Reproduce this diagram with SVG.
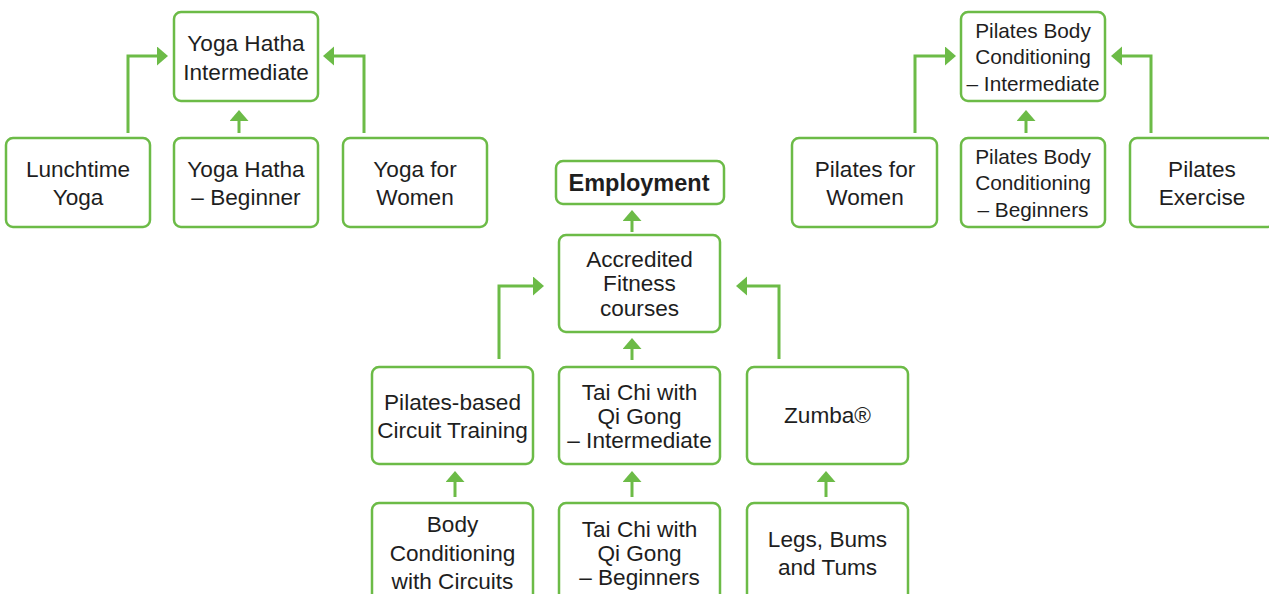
<svg xmlns="http://www.w3.org/2000/svg" width="1269" height="594" viewBox="0 0 1269 594">
<style>
.box{fill:#fff;stroke:#6cbb47;stroke-width:2.5}
.t{font-family:"Liberation Sans",Arial,sans-serif;font-size:22.6px;fill:#1e1e1e;text-anchor:middle}
.s{font-size:20.8px}
.b{font-weight:bold;font-size:23.5px}
.c{fill:none;stroke:#6cbb47;stroke-width:3;marker-end:url(#ah)}
</style>
<defs>
<marker id="ah" markerUnits="userSpaceOnUse" markerWidth="12" markerHeight="20" refX="0" refY="9.5" orient="auto">
<path d="M0,0 L11,9.5 L0,19 z" fill="#6cbb47"/>
</marker>
</defs>
<rect width="1269" height="594" fill="#fff"/>
<g id="connectors">
<path class="c" d="M128,133 V56 H157"/>
<path class="c" d="M239,133 V121"/>
<path class="c" d="M364,133 V56 H334"/>
<path class="c" d="M915,133 V56 H945"/>
<path class="c" d="M1026,133 V121"/>
<path class="c" d="M1151,133 V56 H1122"/>
<path class="c" d="M632,232 V221"/>
<path class="c" d="M499,359 V286 H533"/>
<path class="c" d="M779,359 V286 H747"/>
<path class="c" d="M632,360 V349"/>
<path class="c" d="M455,497 V482"/>
<path class="c" d="M632,497 V482"/>
<path class="c" d="M826,497 V482"/>
</g>
<g id="yoga-hatha-intermediate"><rect class="box" x="174" y="12" width="144" height="89" rx="7"/><text class="t"><tspan x="246" y="51">Yoga Hatha</tspan><tspan x="246" y="80">Intermediate</tspan></text></g>
<g id="lunchtime-yoga"><rect class="box" x="6" y="138" width="144" height="89" rx="7"/><text class="t"><tspan x="78" y="177">Lunchtime</tspan><tspan x="78" y="205">Yoga</tspan></text></g>
<g id="yoga-hatha-beginner"><rect class="box" x="174" y="138" width="144" height="89" rx="7"/><text class="t"><tspan x="246" y="177">Yoga Hatha</tspan><tspan x="246" y="205">– Beginner</tspan></text></g>
<g id="yoga-for-women"><rect class="box" x="343" y="138" width="144" height="89" rx="7"/><text class="t"><tspan x="415" y="177">Yoga for</tspan><tspan x="415" y="205">Women</tspan></text></g>
<g id="pilates-bc-intermediate"><rect class="box" x="961" y="12" width="144" height="89" rx="7"/><text class="t s"><tspan x="1033" y="38">Pilates Body</tspan><tspan x="1033" y="64">Conditioning</tspan><tspan x="1033" y="91">– Intermediate</tspan></text></g>
<g id="pilates-for-women"><rect class="box" x="792" y="138" width="145" height="89" rx="7"/><text class="t"><tspan x="865" y="177">Pilates for</tspan><tspan x="865" y="205">Women</tspan></text></g>
<g id="pilates-bc-beginners"><rect class="box" x="961" y="138" width="144" height="89" rx="7"/><text class="t s"><tspan x="1033" y="164">Pilates Body</tspan><tspan x="1033" y="190">Conditioning</tspan><tspan x="1033" y="217">– Beginners</tspan></text></g>
<g id="pilates-exercise"><rect class="box" x="1130" y="138" width="144" height="89" rx="7"/><text class="t"><tspan x="1202" y="177">Pilates</tspan><tspan x="1202" y="205">Exercise</tspan></text></g>
<g id="employment"><rect class="box" x="556" y="161" width="168" height="43" rx="7"/><text class="t b" x="639" y="191">Employment</text></g>
<g id="accredited"><rect class="box" x="559" y="235" width="161" height="97" rx="7"/><text class="t"><tspan x="639.5" y="267">Accredited</tspan><tspan x="639.5" y="291">Fitness</tspan><tspan x="639.5" y="316">courses</tspan></text></g>
<g id="pilates-based-circuit"><rect class="box" x="372" y="367" width="161" height="97" rx="7"/><text class="t"><tspan x="452.5" y="410">Pilates-based</tspan><tspan x="452.5" y="438">Circuit Training</tspan></text></g>
<g id="tai-chi-intermediate"><rect class="box" x="559" y="367" width="161" height="97" rx="7"/><text class="t"><tspan x="639.5" y="400">Tai Chi with</tspan><tspan x="639.5" y="424">Qi Gong</tspan><tspan x="639.5" y="448">– Intermediate</tspan></text></g>
<g id="zumba"><rect class="box" x="747" y="367" width="161" height="97" rx="7"/><text class="t" x="827.5" y="423">Zumba®</text></g>
<g id="body-conditioning-circuits"><rect class="box" x="372" y="503" width="161" height="100" rx="7"/><text class="t"><tspan x="452.5" y="532">Body</tspan><tspan x="452.5" y="561">Conditioning</tspan><tspan x="452.5" y="589">with Circuits</tspan></text></g>
<g id="tai-chi-beginners"><rect class="box" x="559" y="503" width="161" height="100" rx="7"/><text class="t"><tspan x="639.5" y="537">Tai Chi with</tspan><tspan x="639.5" y="561">Qi Gong</tspan><tspan x="639.5" y="585">– Beginners</tspan></text></g>
<g id="legs-bums-tums"><rect class="box" x="747" y="503" width="161" height="100" rx="7"/><text class="t"><tspan x="827.5" y="547">Legs, Bums</tspan><tspan x="827.5" y="575">and Tums</tspan></text></g>
</svg>
